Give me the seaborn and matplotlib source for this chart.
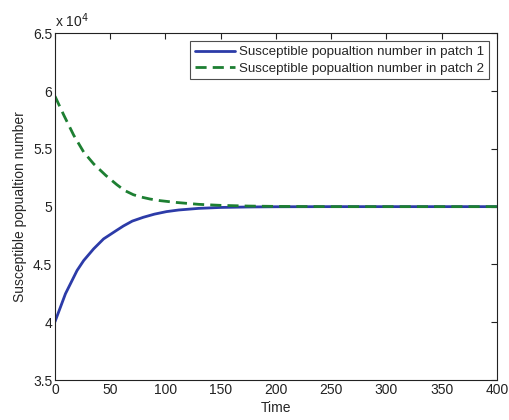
import numpy as np
import pandas as pd
import matplotlib
matplotlib.use("Agg")
import matplotlib.pyplot as plt
from matplotlib.ticker import FuncFormatter, MultipleLocator
import seaborn as sns

# Susceptible population in each patch over time
time_1 = [0, 5, 9.5, 14, 20, 26, 35, 44, 55, 62, 70, 80, 90, 101, 112, 130, 150,
          175, 200, 250, 300, 350, 400]
patch_1 = [40050, 41320, 42470, 43330, 44480, 45340, 46350, 47210, 47900, 48330,
           48750, 49080, 49350, 49570, 49710, 49850, 49930, 49970, 49990,
           50000, 50000, 50000, 50000]

time_2 = [0, 8, 17, 26, 35, 46, 56, 63, 71, 78, 86, 95, 110, 130, 150, 175,
          200, 250, 300, 350, 400]
patch_2 = [59550, 57910, 56170, 54720, 53700, 52700, 51900, 51400, 51030, 50830,
           50660, 50520, 50360, 50200, 50110, 50050, 50020, 50000, 50000, 50000,
           50000]

label_1 = "Susceptible popualtion number in patch 1"
label_2 = "Susceptible popualtion number in patch 2"

df = pd.concat([
    pd.DataFrame({"Time": time_1, "S": patch_1, "series": label_1}),
    pd.DataFrame({"Time": time_2, "S": patch_2, "series": label_2}),
])

sns.set_style("white")
plt.rcParams["font.family"] = ["Liberation Sans", "DejaVu Sans"]

fig = plt.figure(figsize=(5.09, 4.20), dpi=100)
ax = fig.add_axes([0.108, 0.095, 0.868, 0.826])

palette = {label_1: "#2c3ba8", label_2: "#1d7f32"}
sns.lineplot(data=df, x="Time", y="S", hue="series", style="series",
             palette=palette, dashes={label_1: "", label_2: (4, 2.2)},
             linewidth=2.0, ax=ax, legend=True)

ax.set_xlim(0, 400)
ax.set_ylim(35000, 65000)
ax.xaxis.set_major_locator(MultipleLocator(50))
ax.yaxis.set_major_locator(MultipleLocator(5000))
ax.yaxis.set_major_formatter(FuncFormatter(lambda v, p: f"{v/1e4:g}"))
ax.tick_params(direction="in", top=True, right=True, length=4, width=0.8,
               labelsize=10, colors="#222222", pad=2)
for s in ax.spines.values():
    s.set_color("#222222")
    s.set_linewidth(0.8)

ax.set_xlabel("Time", fontsize=10, labelpad=3)
ax.set_ylabel("Susceptible popualtion number", fontsize=10, labelpad=4)
ax.text(0.0, 1.008, r"x 10$^{4}$", transform=ax.transAxes, fontsize=10,
        ha="left", va="bottom", color="#222222")

leg = ax.legend(loc="upper right", fontsize=9.6, frameon=True, fancybox=False,
                edgecolor="#222222", borderpad=0.35, labelspacing=0.3,
                handlelength=3.0, handletextpad=0.3, borderaxespad=0.6)
leg.get_frame().set_linewidth(0.8)

fig.savefig("out.png", dpi=100)
